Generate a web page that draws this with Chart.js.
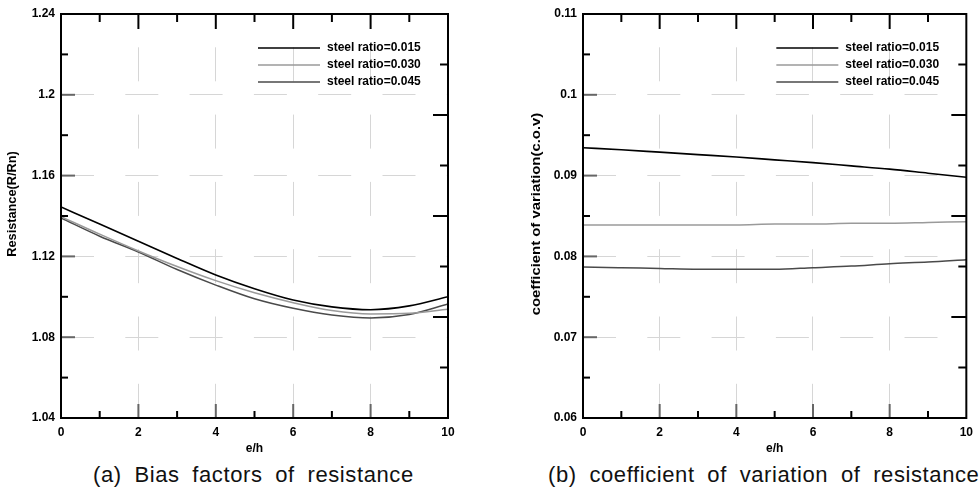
<!DOCTYPE html>
<html>
<head>
<meta charset="utf-8">
<script src="https://cdn.jsdelivr.net/npm/chart.js@4.4.1/dist/chart.umd.min.js"></script>
<style>
  html, body { margin: 0; padding: 0; background: #fff; }
  body { width: 980px; height: 491px; position: relative; overflow: hidden; font-family: "Liberation Sans", Arial, sans-serif; }
  .box { position: absolute; top: 0; width: 490px; height: 460px; }
  .cap { position: absolute; top: 462px; font-size: 22px; color: #111; white-space: nowrap; word-spacing: 6px; letter-spacing: 0.6px; }
</style>
</head>
<body>
<div class="box" style="left:0"><canvas id="chartA" width="490" height="460"></canvas></div>
<div class="box" style="left:490px"><canvas id="chartB" width="490" height="460"></canvas></div>
<div class="cap" id="capA" style="left:93px">(a) Bias factors of resistance</div>
<div class="cap" id="capB" style="left:548px">(b) coefficient of variation of resistance</div>
<script>
const ehValues = [0, 1, 2, 3, 4, 5, 6, 7, 8, 9, 10];
const seriesLabels = ['steel ratio=0.015', 'steel ratio=0.030', 'steel ratio=0.045'];
const seriesColors = ['#000000', '#9a9a9a', '#4a4a4a'];

// (a) bias factor R/Rn
const bias015 = [1.1445, 1.1360, 1.1275, 1.1190, 1.1108, 1.1040, 1.0984, 1.0950, 1.0936, 1.0955, 1.1000];
const bias030 = [1.1397, 1.1310, 1.1227, 1.1150, 1.1080, 1.1020, 1.0971, 1.0932, 1.0915, 1.0918, 1.0938];
const bias045 = [1.1390, 1.1300, 1.1222, 1.1135, 1.1058, 1.0990, 1.0943, 1.0910, 1.0895, 1.0912, 1.0964];

// (b) coefficient of variation
const cov015 = [0.09345, 0.0932, 0.0929, 0.0926, 0.0923, 0.09195, 0.0916, 0.0912, 0.0908, 0.0903, 0.0898];
const cov030 = [0.0839, 0.0839, 0.0839, 0.0839, 0.0839, 0.0840, 0.0840, 0.0841, 0.0841, 0.0842, 0.0843];
const cov045 = [0.0787, 0.0786, 0.0785, 0.0784, 0.0784, 0.0784, 0.0786, 0.0788, 0.0791, 0.0793, 0.0796];

const fontBold = size => ({ family: '"Liberation Sans", Arial, sans-serif', size, weight: 'bold' });

// tick marks on all four sides, frame, y title and legend inside the plot
const frameTicks = {
  id: 'frameTicks',
  afterDraw(chart, args, opts) {
    const { ctx, chartArea: a, scales: { x, y } } = chart;
    ctx.save();
    ctx.lineWidth = 2;
    const seg = (x1, y1, x2, y2, color) => {
      ctx.strokeStyle = color;
      ctx.beginPath();
      ctx.moveTo(x1, y1);
      ctx.lineTo(x2, y2);
      ctx.stroke();
    };
    // left: gray majors, black minors
    for (let k = 1; k < 10; k++) {
      const py = y.getPixelForValue(y.min + k * (y.max - y.min) / 10);
      if (k % 2 === 0) seg(a.left, py, a.left + 14, py, '#666');
      else seg(a.left, py, a.left + 7, py, '#000');
    }
    // right: eighths
    for (let k = 1; k < 8; k++) {
      const py = y.getPixelForValue(y.min + k * (y.max - y.min) / 8);
      seg(a.right, py, a.right - (k % 2 === 0 ? 15 : 8), py, '#000');
    }
    // top and bottom
    for (let k = 1; k < 10; k++) {
      const px = x.getPixelForValue(k);
      seg(px, a.top, px, a.top + (k % 2 === 0 ? 15 : 8), '#000');
      if (k % 2 === 0) seg(px, a.bottom, px, a.bottom - 14, '#666');
      else seg(px, a.bottom, px, a.bottom - 7, '#000');
    }
    ctx.strokeStyle = '#000';
    ctx.strokeRect(a.left, a.top, a.right - a.left, a.bottom - a.top);

    // y axis title, stretched along its length like the original
    ctx.save();
    ctx.translate(opts.titleX, (a.top + a.bottom) / 2 + opts.titleShift);
    ctx.rotate(-Math.PI / 2);
    ctx.scale(opts.stretch, 1);
    ctx.font = 'bold 12px "Liberation Sans", Arial, sans-serif';
    ctx.fillStyle = '#000';
    ctx.textAlign = 'center';
    ctx.textBaseline = 'middle';
    ctx.fillText(opts.title, 0, 0);
    ctx.restore();

    // legend
    ctx.font = 'bold 12px "Liberation Sans", Arial, sans-serif';
    ctx.textBaseline = 'middle';
    ctx.fillStyle = '#000';
    chart.data.datasets.forEach((ds, i) => {
      const ly = a.top + 34 + i * 17;
      ctx.lineWidth = ds.borderWidth;
      seg(a.right - 190, ly, a.right - 128, ly, ds.borderColor);
      ctx.fillText(ds.label, a.right - 121, ly);
    });
    ctx.restore();
  }
};

function makeChart(id, series, yMin, yMax, yStep, yTitle, yWidth, titleX, titleShift, stretch, padRight) {
  const ctx = document.getElementById(id).getContext('2d');
  return new Chart(ctx, {
    type: 'line',
    data: {
      datasets: series.map((vals, i) => ({
        label: seriesLabels[i],
        data: vals.map((v, j) => ({ x: ehValues[j], y: v })),
        borderColor: seriesColors[i],
        borderWidth: i === 0 ? 1.6 : 1.5,
        pointRadius: 0,
        fill: false,
        tension: 0.4,
        cubicInterpolationMode: 'monotone'
      }))
    },
    options: {
      responsive: false,
      devicePixelRatio: 1,
      animation: false,
      layout: { padding: { top: 14, right: padRight, left: 0, bottom: 0 } },
      plugins: {
        legend: { display: false },
        tooltip: { enabled: false },
        frameTicks: { title: yTitle, titleX, titleShift, stretch }
      },
      scales: {
        x: {
          type: 'linear',
          min: 0,
          max: 10,
          afterFit: s => { s.height = 42; },
          ticks: { stepSize: 2, color: '#000', font: fontBold(12), padding: 7, maxRotation: 0 },
          grid: { color: '#d6d6d6', lineWidth: 1, drawTicks: false, tickLength: 0 },
          border: { display: false, dash: [34, 33.3], dashOffset: 34 },
          title: { display: true, text: 'e/h', color: '#000', font: fontBold(12), padding: { top: 0, bottom: 4 } }
        },
        y: {
          min: yMin,
          max: yMax,
          afterFit: s => { s.width = yWidth; },
          ticks: {
            stepSize: yStep,
            color: '#000',
            font: fontBold(12),
            padding: 6,
            callback: v => String(Number(v.toFixed(3)))
          },
          grid: { color: '#d6d6d6', lineWidth: 1, drawTicks: false, tickLength: 0 },
          border: { display: false, dash: [33, 31.3], dashOffset: 0 },
          title: { display: false }
        }
      }
    },
    plugins: [frameTicks]
  });
}

makeChart('chartA', [bias015, bias030, bias045], 1.04, 1.24, 0.04, 'Resistance(R/Rn)', 61, 13, -12, 1.06, 42);
makeChart('chartB', [cov015, cov030, cov045], 0.06, 0.11, 0.01, 'coefficient of variation(c.o.v)', 93, 47, -2, 1.24, 12);
</script>
</body>
</html>
